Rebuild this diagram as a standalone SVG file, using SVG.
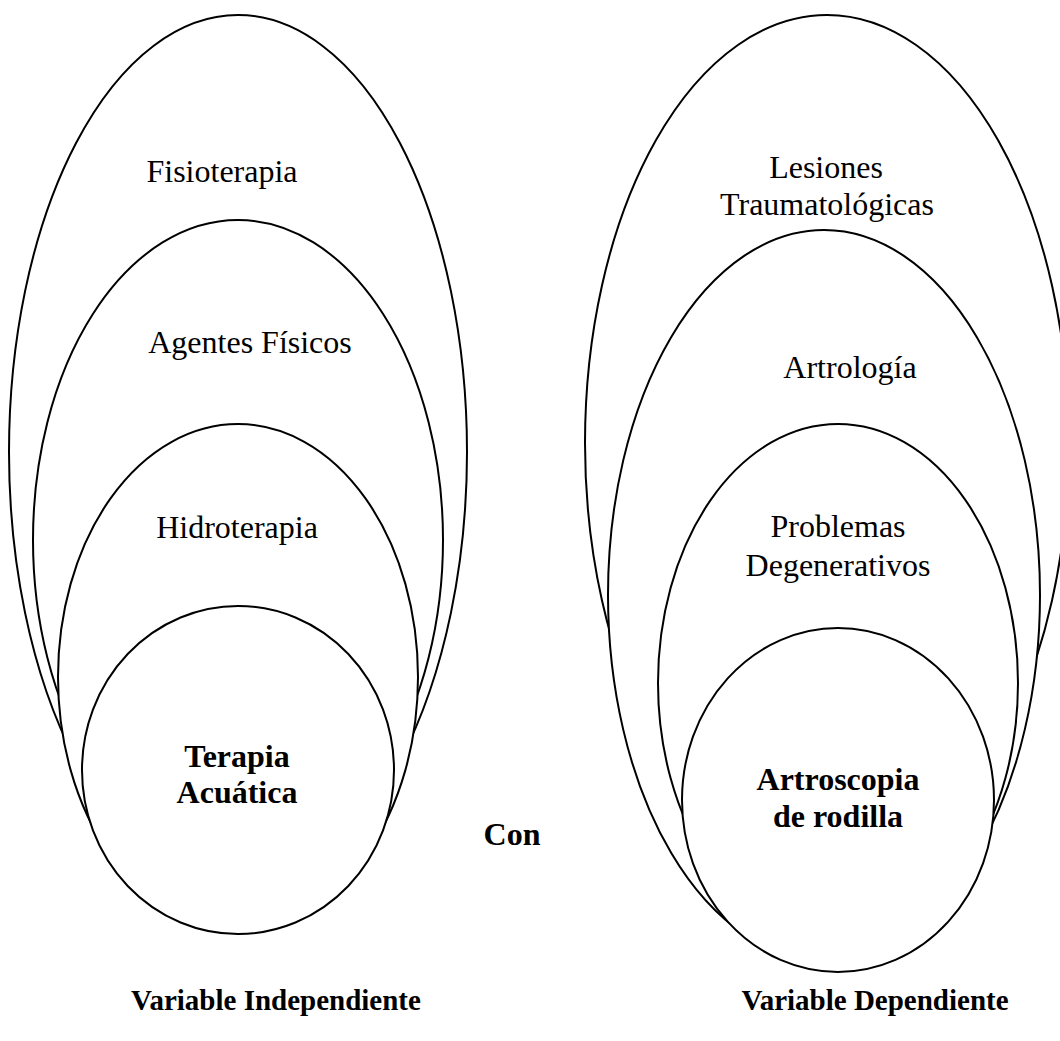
<svg xmlns="http://www.w3.org/2000/svg" width="1060" height="1041" viewBox="0 0 1060 1041">
<style>
  .sh { fill: #ffffff; stroke: #000000; stroke-width: 2; }
  .t { font-family: "Liberation Serif", "Times New Roman", serif; font-size: 32px; fill: #000000; text-anchor: middle; }
  .b { font-weight: bold; }
  .v { font-size: 29px; }
</style>
<rect width="1060" height="1041" fill="#ffffff"/>
<g id="left-group">
  <g id="fisioterapia">
    <ellipse class="sh" cx="238" cy="452" rx="229" ry="437"/>
    <text class="t" x="222" y="182">Fisioterapia</text>
  </g>
  <g id="agentes-fisicos">
    <ellipse class="sh" cx="238" cy="540" rx="205" ry="320"/>
    <text class="t" x="250" y="353">Agentes Físicos</text>
  </g>
  <g id="hidroterapia">
    <ellipse class="sh" cx="238" cy="677" rx="180" ry="253"/>
    <text class="t" x="237" y="538">Hidroterapia</text>
  </g>
  <g id="terapia-acuatica">
    <ellipse class="sh" cx="238" cy="770" rx="156" ry="164"/>
    <text class="t b" x="237" y="767">Terapia</text>
    <text class="t b" x="237" y="803">Acuática</text>
  </g>
</g>
<g id="right-group">
  <g id="lesiones">
    <ellipse class="sh" cx="827" cy="443" rx="242" ry="428"/>
    <text class="t" x="826" y="178">Lesiones</text>
    <text class="t" x="827" y="215">Traumatológicas</text>
  </g>
  <g id="artrologia">
    <ellipse class="sh" cx="824" cy="595" rx="216" ry="365"/>
    <text class="t" x="850" y="378">Artrología</text>
  </g>
  <g id="problemas">
    <ellipse class="sh" cx="838" cy="683" rx="180" ry="259"/>
    <text class="t" x="838" y="537">Problemas</text>
    <text class="t" x="838" y="576">Degenerativos</text>
  </g>
  <g id="artroscopia">
    <ellipse class="sh" cx="838" cy="800" rx="156" ry="172"/>
    <text class="t b" x="838" y="790">Artroscopia</text>
    <text class="t b" x="838" y="827">de rodilla</text>
  </g>
</g>
<g id="connectors"></g>
<g id="labels">
  <text class="t b" x="512" y="845">Con</text>
  <text class="t b v" x="276" y="1010">Variable Independiente</text>
  <text class="t b v" x="875" y="1010">Variable Dependiente</text>
</g>
</svg>
